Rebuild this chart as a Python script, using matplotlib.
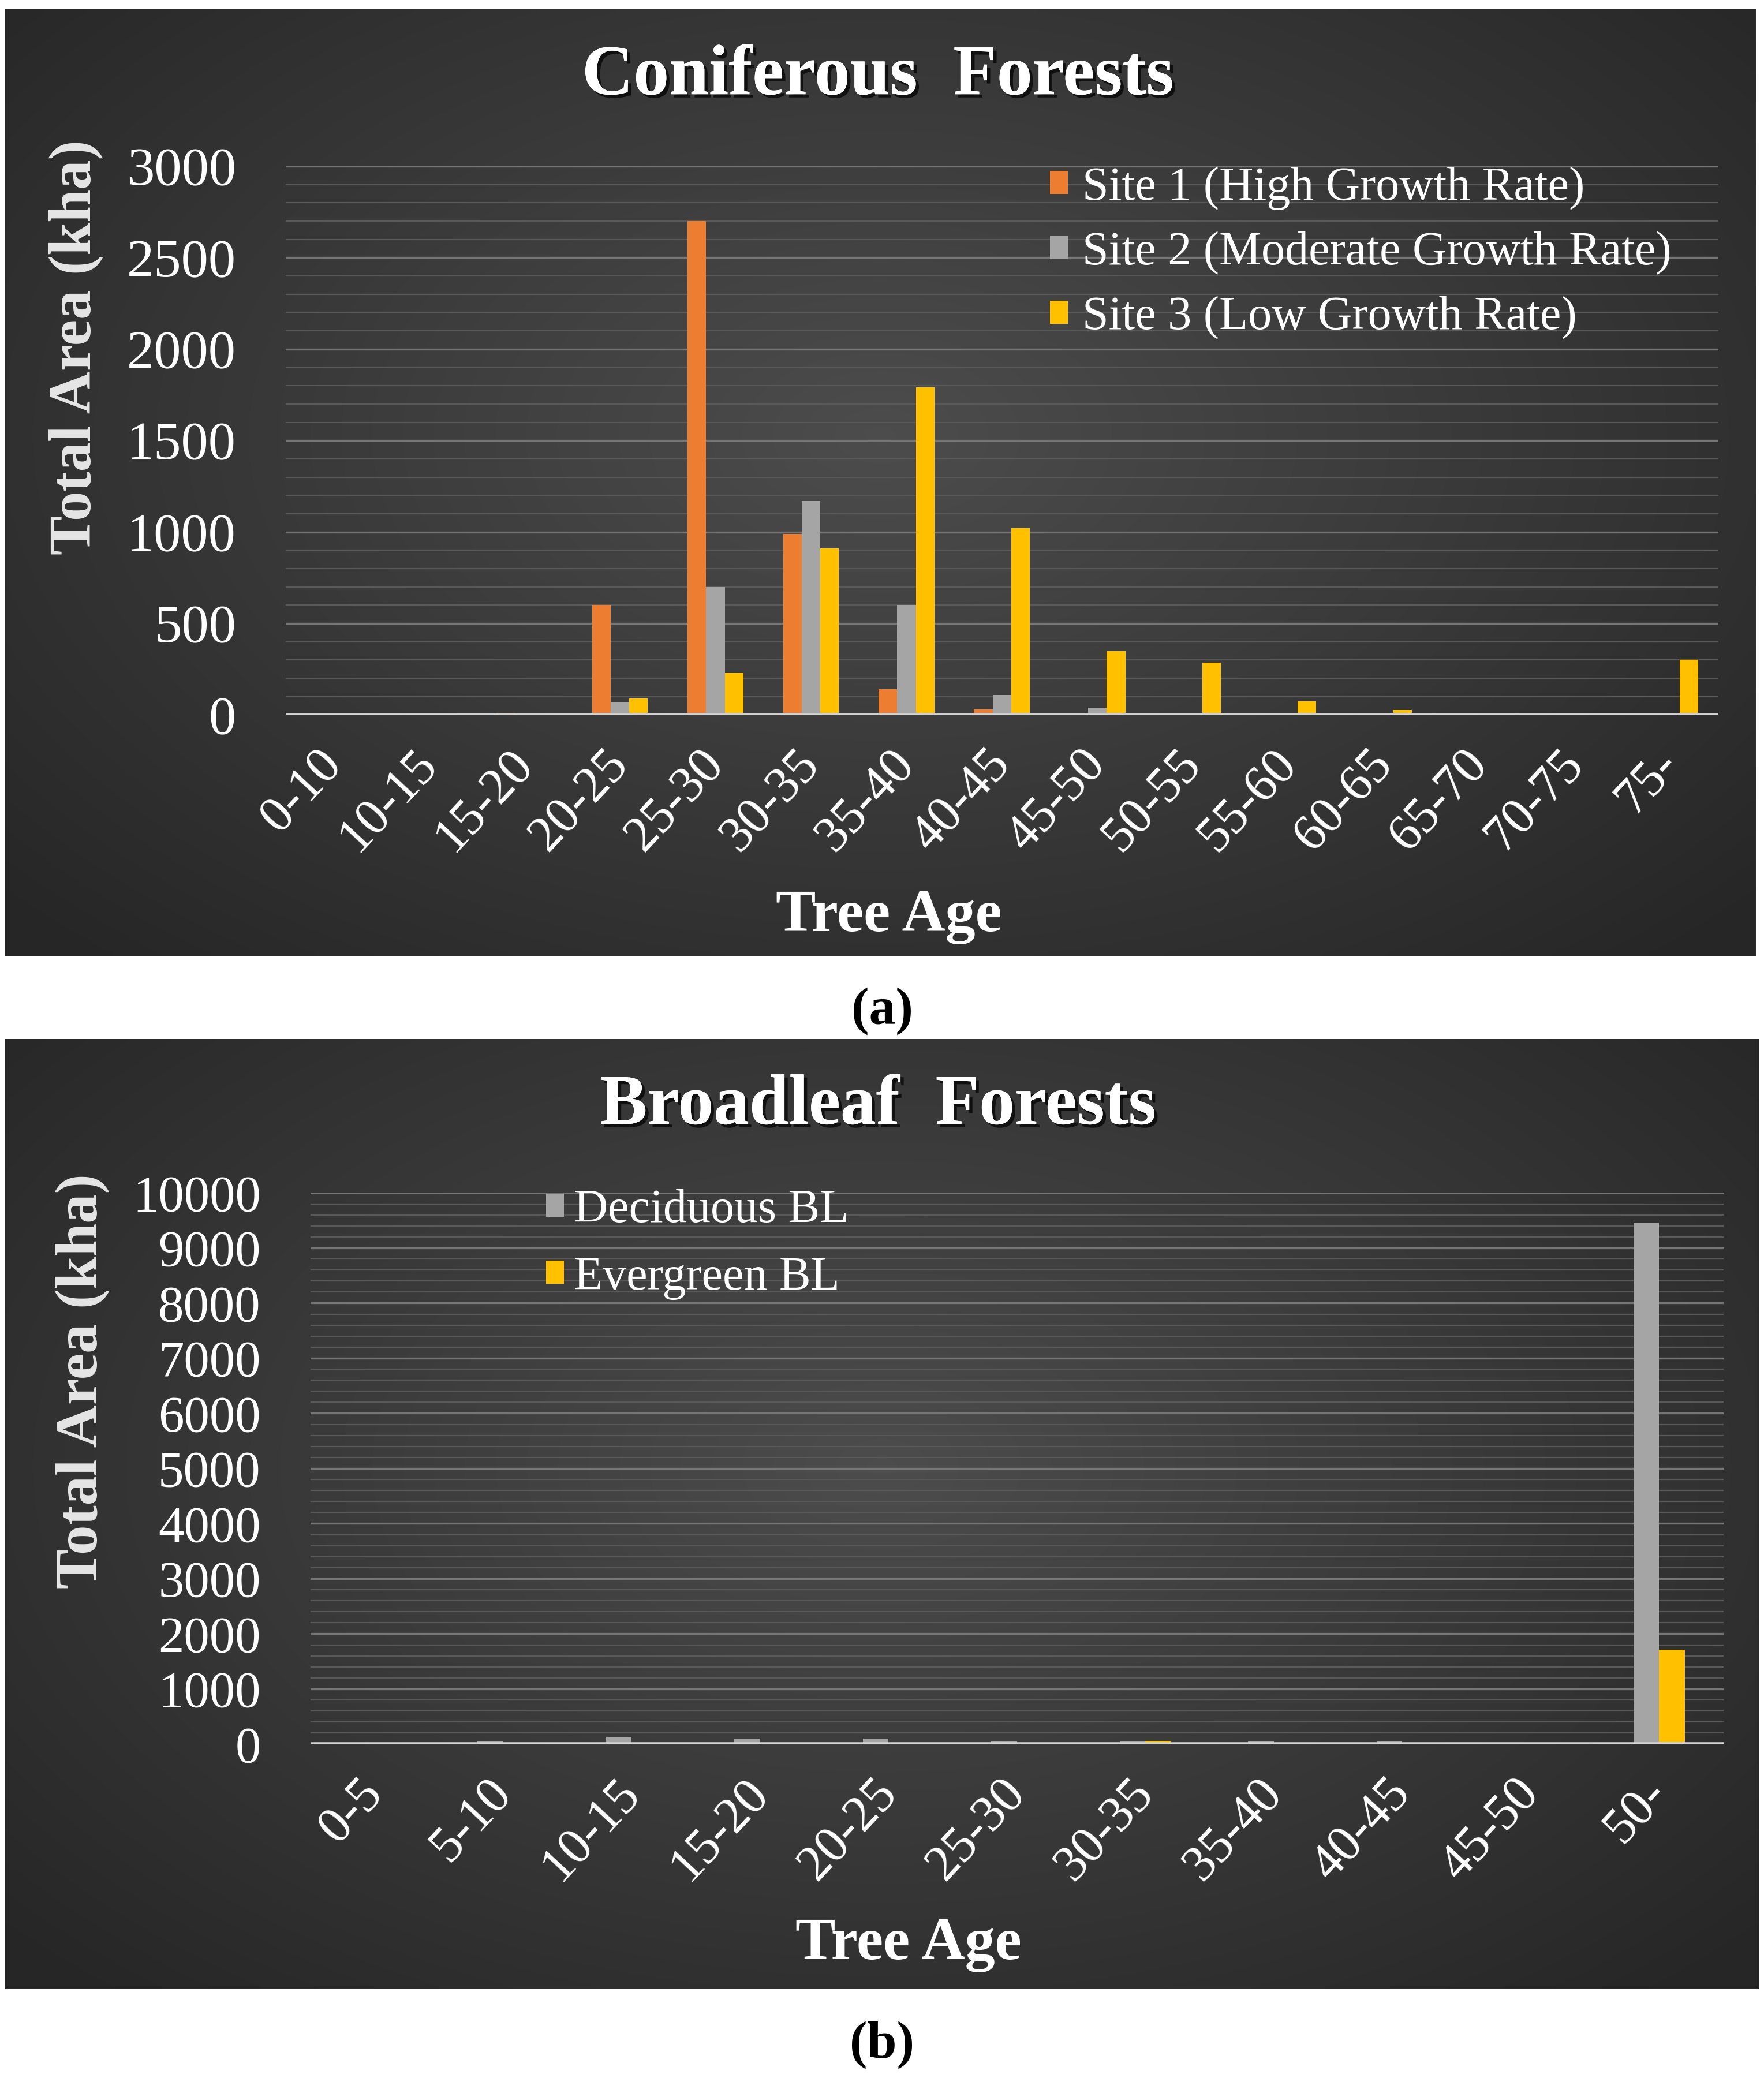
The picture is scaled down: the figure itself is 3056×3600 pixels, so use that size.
import numpy as np
import matplotlib
matplotlib.use("Agg")
import matplotlib.pyplot as plt
import matplotlib.patheffects as pe
from matplotlib.ticker import MultipleLocator

# ---------------- data ----------------
con_ages = ["0-10", "10-15", "15-20", "20-25", "25-30", "30-35", "35-40", "40-45",
            "45-50", "50-55", "55-60", "60-65", "65-70", "70-75", "75-"]
site1 = [0, 0, 12, 600, 2700, 990, 140, 30, 5, 2, 0, 0, 0, 0, 0]
site2 = [0, 0, 4, 70, 700, 1170, 600, 110, 40, 5, 3, 2, 2, 2, 5]
site3 = [0, 0, 4, 90, 230, 910, 1790, 1020, 350, 285, 75, 25, 5, 5, 300]
con_labels = ["Site 1 (High Growth Rate)", "Site 2 (Moderate Growth Rate)", "Site 3 (Low Growth Rate)"]

bl_ages = ["0-5", "5-10", "10-15", "15-20", "20-25", "25-30", "30-35", "35-40", "40-45", "45-50", "50-"]
deciduous = [15, 60, 135, 100, 95, 55, 60, 60, 60, 10, 9450]
evergreen = [15, 10, 10, 10, 10, 10, 60, 10, 10, 15, 1710]
bl_labels = ["Deciduous BL", "Evergreen BL"]

ORANGE = "#ED7D31"
GRAY = "#A5A5A5"
YELLOW = "#FFC000"
SERIF = ["Liberation Serif", "DejaVu Serif"]

W, H = 3056, 3600
fig = plt.figure(figsize=(W / 100, H / 100), dpi=100, facecolor="white")


def panel_background(rect):
    bg = fig.add_axes(rect, zorder=0)
    ny, nx = 200, 400
    x = np.linspace(-1, 1, nx)
    y = np.linspace(-1, 1, ny)
    X, Y = np.meshgrid(x, y)
    r = np.sqrt((X * 1.0) ** 2 + ((Y + 0.1) * 0.9) ** 2)
    v = np.clip(1 - r / 1.35, 0, 1)
    lo, hi = 0.15, 0.30
    img = lo + (hi - lo) * v
    rgb = np.dstack([img, img, img])
    bg.imshow(rgb, aspect="auto", extent=(0, 1, 0, 1), interpolation="bilinear")
    bg.set_xlim(0, 1)
    bg.set_ylim(0, 1)
    bg.axis("off")
    return bg


def style_axes(ax, major, minor, ymax):
    ax.set_facecolor("none")
    for s in ax.spines.values():
        s.set_visible(False)
    ax.set_ylim(0, ymax)
    ax.yaxis.set_major_locator(MultipleLocator(major))
    ax.yaxis.set_minor_locator(MultipleLocator(minor))
    ax.grid(axis="y", which="major", color="#767676", linewidth=2.4, zorder=0)
    ax.grid(axis="y", which="minor", color="#595959", linewidth=1.6, zorder=0)
    ax.set_axisbelow(True)
    ax.tick_params(axis="both", which="both", length=0, colors="white")
    ax.axhline(0, color="#D0D0D0", linewidth=4, zorder=3)


shadow = [pe.withSimplePatchShadow(offset=(4, -4), shadow_rgbFace="black", alpha=0.7), pe.Normal()]

# ================= Panel (a) =================
panel_background([0.003, 0.540, 0.9925, 0.4555])
ax1 = fig.add_axes([0.162, 0.656, 0.812, 0.264], zorder=2)
style_axes(ax1, 500, 100, 3000)
n = len(con_ages)
xs = np.arange(n)
w = 0.195
ax1.bar(xs - w, site1, w, color=ORANGE, label=con_labels[0], zorder=2)
ax1.bar(xs, site2, w, color=GRAY, label=con_labels[1], zorder=2)
ax1.bar(xs + w, site3, w, color=YELLOW, label=con_labels[2], zorder=2)
ax1.set_xlim(-0.5, n - 0.5)
ax1.set_xticks(xs)
ax1.set_xticklabels(con_ages, rotation=47, ha="right", va="center", rotation_mode="anchor",
                    fontfamily=SERIF, fontsize=64, color="white")
ax1.tick_params(axis="x", pad=52)
ax1.tick_params(axis="y", pad=62, labelsize=68)
for lab in ax1.get_yticklabels():
    lab.set_fontfamily(SERIF)
ax1.legend(loc="upper left", bbox_to_anchor=(0.517, 1.043), frameon=False, borderpad=0,
           prop={"family": SERIF, "size": 59}, labelcolor="white",
           handlelength=0.38, handleheight=0.38, handletextpad=0.3, labelspacing=0.45)
fig.text(0.4977, 0.963, "Coniferous  Forests", ha="center", va="center", fontfamily=SERIF,
         fontsize=89, fontweight="bold", color="white", path_effects=shadow)
fig.text(0.043, 0.833, "Total Area (kha)", ha="center", va="center", rotation=90,
         fontfamily=SERIF, fontsize=74, fontweight="bold", color="#E6E6E6")
fig.text(0.5038, 0.5587, "Tree Age", ha="center", va="center", fontfamily=SERIF,
         fontsize=75, fontweight="bold", color="white")
fig.text(0.5, 0.5135, "(a)", ha="center", va="center", fontfamily=SERIF, fontsize=66,
         fontweight="bold", color="black")

# ================= Panel (b) =================
panel_background([0.003, 0.0427, 0.994, 0.4573])
ax2 = fig.add_axes([0.176, 0.1607, 0.801, 0.2653], zorder=2)
style_axes(ax2, 1000, 200, 10000)
m = len(bl_ages)
xb = np.arange(m)
wb = 0.2
ax2.bar(xb - wb / 2, deciduous, wb, color=GRAY, label=bl_labels[0], zorder=2)
ax2.bar(xb + wb / 2, evergreen, wb, color=YELLOW, label=bl_labels[1], zorder=2)
ax2.set_xlim(-0.5, m - 0.5)
ax2.set_xticks(xb)
ax2.set_xticklabels(bl_ages, rotation=47, ha="right", va="center", rotation_mode="anchor",
                    fontfamily=SERIF, fontsize=64, color="white")
ax2.tick_params(axis="x", pad=52)
ax2.tick_params(axis="y", pad=62, labelsize=64)
for lab in ax2.get_yticklabels():
    lab.set_fontfamily(SERIF)
ax2.legend(loc="upper left", bbox_to_anchor=(0.15, 1.05), frameon=False, borderpad=0,
           prop={"family": SERIF, "size": 59}, labelcolor="white",
           handlelength=0.38, handleheight=0.38, handletextpad=0.2, labelspacing=0.5)
fig.text(0.4977, 0.4675, "Broadleaf  Forests", ha="center", va="center", fontfamily=SERIF,
         fontsize=89, fontweight="bold", color="white", path_effects=shadow)
fig.text(0.0468, 0.3355, "Total Area (kha)", ha="center", va="center", rotation=90,
         fontfamily=SERIF, fontsize=74, fontweight="bold", color="#E6E6E6")
fig.text(0.515, 0.0638, "Tree Age", ha="center", va="center", fontfamily=SERIF,
         fontsize=75, fontweight="bold", color="white")
fig.text(0.5, 0.016, "(b)", ha="center", va="center", fontfamily=SERIF, fontsize=66,
         fontweight="bold", color="black")

fig.savefig("out.png", dpi=100, facecolor="white")
